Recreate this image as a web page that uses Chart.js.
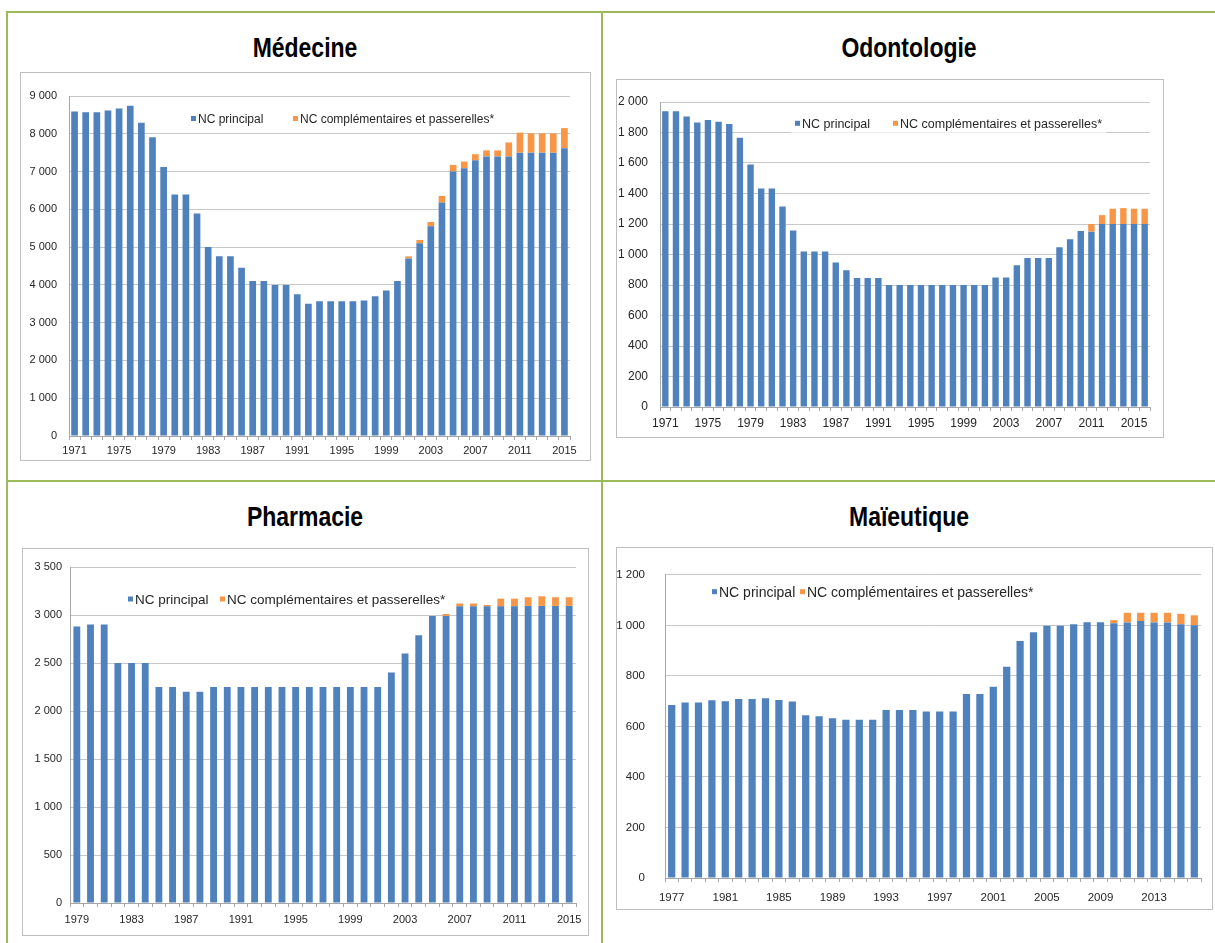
<!DOCTYPE html>
<html><head><meta charset="utf-8">
<script src="https://cdn.jsdelivr.net/npm/chart.js@4.4.1/dist/chart.umd.min.js"></script>
<style>
html,body{margin:0;padding:0;background:#fff}
body{width:1215px;height:943px;overflow:hidden;position:relative;font-family:'Liberation Sans',Arial,sans-serif}
.g{position:absolute;background:#9bbb59}
.title{position:absolute;width:400px;text-align:center;font-family:'Liberation Sans',Arial,sans-serif;font-weight:bold;font-size:28px;line-height:28px;color:#000;white-space:nowrap;transform:scaleX(0.82);transform-origin:50% 50%}
.frame{position:absolute;border:1px solid #bfbfbf;box-sizing:border-box;background:#fff}
.box{position:absolute;left:0;top:0}
</style></head>
<body>
<div class="g" style="left:6px;top:11px;width:1209px;height:2px"></div>
<div class="g" style="left:6px;top:11px;width:2px;height:932px"></div>
<div class="g" style="left:601px;top:11px;width:2px;height:932px"></div>
<div class="g" style="left:6px;top:480px;width:1209px;height:2px"></div>

<div class="title" style="left:105px;top:34px">Médecine</div>
<div class="title" style="left:709px;top:34px">Odontologie</div>
<div class="title" style="left:105px;top:503px">Pharmacie</div>
<div class="title" style="left:709px;top:503px">Maïeutique</div>

<div class="frame" style="left:20px;top:72px;width:571px;height:389px"><div class="box" style="width:569px;height:387px"><canvas id="cMed"></canvas></div></div>
<div class="frame" style="left:616px;top:79px;width:548px;height:359px"><div class="box" style="width:546px;height:357px"><canvas id="cOdo"></canvas></div></div>
<div class="frame" style="left:22px;top:548px;width:567px;height:388px"><div class="box" style="width:565px;height:386px"><canvas id="cPha"></canvas></div></div>
<div class="frame" style="left:616px;top:547px;width:597px;height:363px"><div class="box" style="width:595px;height:361px"><canvas id="cMai"></canvas></div></div>

<script>
// ---------- DATA ----------
const seriesNames = ['NC principal', 'NC complémentaires et passerelles*'];

// Médecine
const medYears = ['1971','1972','1973','1974','1975','1976','1977','1978','1979','1980','1981','1982','1983','1984','1985','1986','1987','1988','1989','1990','1991','1992','1993','1994','1995','1996','1997','1998','1999','2000','2001','2002','2003','2004','2005','2006','2007','2008','2009','2010','2011','2012','2013','2014','2015'];
const medPrincipal = [8588,8571,8571,8616,8671,8740,8295,7910,7120,6390, 6390,5890,5000,4755,4755,4455,4100,4100,4000,4000, 3750,3500,3570,3570,3570,3570,3585,3700,3850,4100, 4700,5100,5550,6180,7000,7090,7300,7400,7400,7400, 7500,7500,7500,7500,7620];
const medCompl = [0,0,0,0,0,0,0,0,0,0, 0,0,0,0,0,0,0,0,0,0, 0,0,0,0,0,0,0,0,0,0, 55,90,115,175,175,175,160,160,160,370, 530,510,510,510,530];
const medTicks = ['1971','1975','1979','1983','1987','1991','1995','1999','2003','2007','2011','2015'];
const medYTicks = [0,1000,2000,3000,4000,5000,6000,7000,8000,9000];

// Odontologie
const odoYears = ['1971','1972','1973','1974','1975','1976','1977','1978','1979','1980','1981','1982','1983','1984','1985','1986','1987','1988','1989','1990','1991','1992','1993','1994','1995','1996','1997','1998','1999','2000','2001','2002','2003','2004','2005','2006','2007','2008','2009','2010','2011','2012','2013','2014','2015','2016'];
const odoPrincipal = [1940,1940,1905,1865,1882,1870,1855,1766,1590,1433, 1433,1315,1157,1020,1020,1020,948,896,846,846, 846,800,800,800,800,800,800,800,800,800, 800,850,850,930,977,977,977,1047,1100,1154, 1150,1200,1200,1200,1200,1200];
const odoCompl = [0,0,0,0,0,0,0,0,0,0, 0,0,0,0,0,0,0,0,0,0, 0,0,0,0,0,0,0,0,0,0, 0,0,0,0,0,0,0,0,0,0, 50,58,100,104,100,100];
const odoTicks = ['1971','1975','1979','1983','1987','1991','1995','1999','2003','2007','2011','2015'];
const odoYTicks = [0,200,400,600,800,1000,1200,1400,1600,1800,2000];

// Pharmacie
const phaYears = ['1979','1980','1981','1982','1983','1984','1985','1986','1987','1988','1989','1990','1991','1992','1993','1994','1995','1996','1997','1998','1999','2000','2001','2002','2003','2004','2005','2006','2007','2008','2009','2010','2011','2012','2013','2014','2015'];
const phaPrincipal = [2880,2900,2900,2500,2500,2500,2250,2250,2200,2200, 2250,2250,2250,2250,2250,2250,2250,2250,2250,2250, 2250,2250,2250,2400,2600,2790,2990,2990,3090,3090, 3090,3090,3090,3095,3095,3095,3095];
const phaCompl = [0,0,0,0,0,0,0,0,0,0, 0,0,0,0,0,0,0,0,0,0, 0,0,0,0,0,0,0,20,30,30, 15,80,80,90,100,90,90];
const phaTicks = ['1979','1983','1987','1991','1995','1999','2003','2007','2011','2015'];
const phaYTicks = [0,500,1000,1500,2000,2500,3000,3500];

// Maïeutique
const maiYears = ['1977','1978','1979','1980','1981','1982','1983','1984','1985','1986','1987','1988','1989','1990','1991','1992','1993','1994','1995','1996','1997','1998','1999','2000','2001','2002','2003','2004','2005','2006','2007','2008','2009','2010','2011','2012','2013','2014','2015','2016'];
const maiPrincipal = [685,695,695,704,700,709,709,712,705,699, 644,640,632,627,627,627,665,665,665,659, 659,659,728,728,757,836,938,973,999,999, 1005,1013,1013,1009,1012,1017,1012,1012,1005,1001];
const maiCompl = [0,0,0,0,0,0,0,0,0,0, 0,0,0,0,0,0,0,0,0,0, 0,0,0,0,0,0,0,0,0,0, 0,0,0,12,38,33,38,38,41,39];
const maiTicks = ['1977','1981','1985','1989','1993','1997','2001','2005','2009','2013'];
const maiYTicks = [0,200,400,600,800,1000,1200];

// ---------- STYLE ----------
const BLUE = '#4f81bd', ORANGE = '#f79646';
const GRID = '#c8c8c8', AX = '#a6a6a6', TXT = '#262626';
const REG = "'Liberation Sans',Arial,sans-serif";
const fmt = v => String(v).replace(/\B(?=(\d{3})+(?!\d))/g, ' ');

const legendPlugin = {
  id: 'customLegend',
  beforeDatasetsDraw(chart, args, o) {
    const ctx = chart.ctx;
    ctx.save();
    ctx.font = o.size + "px " + REG;
    const w2 = ctx.measureText(chart.data.datasets[1].label).width;
    ctx.fillStyle = '#fff';
    ctx.fillRect(o.x1 - 4, o.y - o.size * 0.75, (o.x2 + 7 + w2 + 4) - (o.x1 - 4), o.size * 1.5);
    ctx.restore();
  },
  afterDatasetsDraw(chart, args, o) {
    const ctx = chart.ctx;
    ctx.save();
    ctx.font = o.size + "px " + REG;
    ctx.textBaseline = 'alphabetic';
    ctx.textAlign = 'left';
    const xs = [o.x1, o.x2];
    chart.data.datasets.forEach((d, i) => {
      ctx.fillStyle = d.backgroundColor;
      ctx.fillRect(xs[i], o.y - o.sq / 2, o.sq, o.sq);
      ctx.fillStyle = TXT;
      ctx.fillText(d.label, xs[i] + 7, o.y + 0.358 * o.size);
    });
    ctx.restore();
  }
};

function makeChart(id, c) {
  const bp = c.bp;
  new Chart(document.getElementById(id), {
    type: 'bar',
    data: {
      labels: c.years,
      datasets: [
        {label: seriesNames[0], data: c.principal, backgroundColor: BLUE, borderWidth: 0, barPercentage: bp, categoryPercentage: 1},
        {label: seriesNames[1], data: c.compl, backgroundColor: ORANGE, borderWidth: 0, barPercentage: bp, categoryPercentage: 1}
      ]
    },
    options: {
      responsive: true, maintainAspectRatio: false, animation: false,
      devicePixelRatio: 1,
      layout: {padding: {left: 0, top: c.T, right: c.pr, bottom: 0}},
      plugins: {legend: {display: false}, tooltip: {enabled: false}, customLegend: c.legend},
      scales: {
        x: {
          stacked: true,
          grid: {display: true, drawOnChartArea: false, drawTicks: true, tickLength: 4, color: AX, offset: true},
          border: {display: true, color: AX},
          ticks: {
            autoSkip: false, maxRotation: 0, minRotation: 0, padding: c.xpad, color: TXT,
            font: {family: REG, size: c.xsize},
            callback: function (v) { const l = this.getLabelForValue(v); return c.tickLabels.includes(l) ? l : ''; }
          },
          afterFit: s => { s.height = c.xh; }
        },
        y: {
          stacked: true, min: 0, max: c.yTicks[c.yTicks.length - 1],
          grid: {color: GRID, drawTicks: false},
          border: {display: true, color: AX},
          afterBuildTicks: s => { s.ticks = c.yTicks.map(v => ({value: v})); },
          ticks: {padding: c.ypad, color: TXT, font: {family: REG, size: c.ysize}, callback: v => fmt(v)},
          afterFit: s => { s.width = c.L; }
        }
      }
    },
    plugins: [legendPlugin]
  });
}

makeChart('cMed', {years: medYears, principal: medPrincipal, compl: medCompl, tickLabels: medTicks, yTicks: medYTicks,
  bp: 0.6, L: 48, T: 23, pr: 20, xh: 24, xpad: 4, ypad: 12, xsize: 11, ysize: 11,
  legend: {x1: 170, x2: 272, y: 45.5, size: 12, sq: 5}});
makeChart('cOdo', {years: odoYears, principal: odoPrincipal, compl: odoCompl, tickLabels: odoTicks, yTicks: odoYTicks,
  bp: 0.6, L: 43, T: 22, pr: 13, xh: 30, xpad: 5, ypad: 12, xsize: 12, ysize: 12,
  legend: {x1: 178, x2: 276, y: 43.3, size: 12.5, sq: 5}});
makeChart('cPha', {years: phaYears, principal: phaPrincipal, compl: phaCompl, tickLabels: phaTicks, yTicks: phaYTicks,
  bp: 0.5, L: 47, T: 18, pr: 12, xh: 32, xpad: 6, ypad: 8, xsize: 11, ysize: 11,
  legend: {x1: 105, x2: 197, y: 50, size: 13.5, sq: 5}});
makeChart('cMai', {years: maiYears, principal: maiPrincipal, compl: maiCompl, tickLabels: maiTicks, yTicks: maiYTicks,
  bp: 0.54, L: 48, T: 16, pr: 11, xh: 31, xpad: 9, ypad: 20, xsize: 11.5, ysize: 11.5,
  legend: {x1: 95, x2: 183, y: 43.7, size: 14, sq: 5}});
</script>
</body></html>
